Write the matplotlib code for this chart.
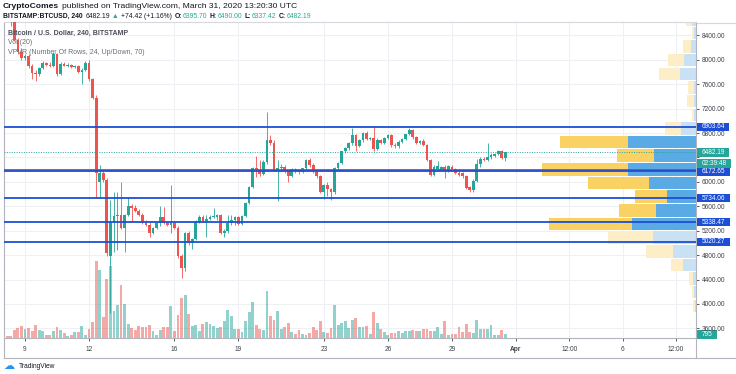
import matplotlib
matplotlib.use('Agg')
import matplotlib.pyplot as plt
import numpy as np
import pandas as pd
from matplotlib.lines import Line2D

plt.rcParams['font.family'] = ['Liberation Sans', 'DejaVu Sans']

# ---------------- data ----------------
start_time = '2020-03-08 00:00'
opens = [8880, 8790, 8700, 8620, 8330, 8130, 8030, 8060, 7890, 7790,
         7760, 7870, 7950, 7920, 7900, 8090, 7770, 7930, 7900, 7920,
         7880, 7900, 7800, 7840, 7950, 7680, 7380, 6000, 6140, 6030,
         4780, 5340, 5440, 5460, 5250, 5460, 5600, 5580, 5520, 5460,
         5330, 5300, 5160, 5250, 5330, 5430, 5320, 5300, 5330, 5250,
         4780, 4590, 5160, 5000, 5060, 5350, 5430, 5360, 5400, 5430,
         5420, 5460, 5170, 5200, 5330, 5370, 5420, 5310, 5440, 5650,
         5920, 6220, 6180, 6130, 6330, 6690, 6640, 6200, 6230, 6250,
         6170, 6100, 6210, 6180, 6160, 6220, 6350, 6280, 6170, 6090,
         5830, 5950, 5880, 5830, 6220, 6310, 6500, 6550, 6640, 6760,
         6590, 6680, 6800, 6710, 6720, 6540, 6680, 6640, 6720, 6760,
         6600, 6580, 6660, 6700, 6780, 6850, 6730, 6640, 6670, 6600,
         6360, 6120, 6210, 6200, 6250, 6180, 6250, 6210, 6150, 6140,
         6090, 5910, 5860, 6020, 6300, 6380, 6360, 6400, 6430, 6450,
         6500, 6395.70]
highs = [8920, 8830, 8740, 8640, 8360, 8200, 8090, 8090, 7930, 7840,
         7880, 7980, 7970, 7960, 8120, 8110, 7960, 7960, 7940, 7930,
         7920, 7910, 7860, 7980, 7990, 7700, 7420, 6280, 6200, 6060,
         5700, 5840, 5840, 5990, 5480, 5760, 5640, 5620, 5550, 5490,
         5370, 5350, 5260, 5340, 5600, 5590, 5360, 5950, 5360, 5280,
         4820, 5180, 5190, 5080, 5370, 5450, 5450, 5460, 5450, 5580,
         5480, 5480, 5230, 5450, 5450, 5440, 5440, 5460, 5670, 5940,
         6250, 6420, 6360, 6360, 7140, 6760, 6680, 6360, 6300, 6270,
         6200, 6230, 6230, 6210, 6230, 6370, 6390, 6310, 6190, 6110,
         5970, 5990, 5900, 6240, 6330, 6510, 6570, 6650, 6890, 6790,
         6700, 6820, 6830, 6740, 6920, 6720, 6700, 6740, 6780, 6790,
         6640, 6680, 6720, 6790, 6880, 6870, 6750, 6690, 6700, 6620,
         6380, 6270, 6340, 6260, 6270, 6280, 6270, 6230, 6180, 6160,
         6110, 5930, 6040, 6370, 6400, 6410, 6640, 6480, 6470, 6530,
         6520, 6490.00]
lows = [8760, 8650, 8560, 8300, 8100, 7990, 7990, 7870, 7680, 7650,
        7740, 7850, 7900, 7880, 7880, 7740, 7750, 7890, 7880, 7860,
        7860, 7780, 7600, 7820, 7660, 7360, 5740, 5740, 6000, 4780,
        3850, 4850, 4890, 5230, 4850, 5440, 5350, 5500, 5440, 5310,
        5270, 5100, 5140, 5230, 5270, 5310, 5280, 5160, 5220, 4750,
        4430, 4540, 4970, 4900, 5040, 5330, 5340, 5100, 5370, 5410,
        5380, 5140, 5090, 5160, 5300, 5290, 5290, 5290, 5420, 5630,
        5900, 6080, 6100, 6110, 6300, 6600, 6170, 5680, 6180, 6150,
        6000, 6080, 6150, 6130, 6140, 6200, 6250, 6150, 6070, 5810,
        5720, 5770, 5710, 5800, 6200, 6290, 6470, 6530, 6610, 6500,
        6570, 6660, 6690, 6680, 6510, 6520, 6620, 6620, 6700, 6570,
        6560, 6560, 6640, 6680, 6760, 6710, 6620, 6620, 6580, 6340,
        6090, 6100, 6190, 6180, 6070, 6160, 6190, 6130, 6100, 6070,
        5880, 5830, 5840, 6000, 6250, 6340, 6340, 6380, 6410, 6440,
        6370, 6337.42]
closes = [8790, 8700, 8620, 8330, 8130, 8030, 8060, 7890, 7790, 7760,
          7870, 7950, 7920, 7900, 8090, 7770, 7930, 7900, 7920, 7880,
          7900, 7800, 7840, 7950, 7680, 7380, 6150, 6140, 6030, 4830,
          5340, 5440, 5460, 5250, 5460, 5600, 5580, 5520, 5460, 5330,
          5300, 5160, 5250, 5330, 5430, 5320, 5300, 5330, 5250, 4780,
          4590, 5160, 5000, 5060, 5350, 5430, 5360, 5400, 5430, 5440,
          5460, 5170, 5200, 5330, 5370, 5420, 5310, 5440, 5650, 5920,
          6220, 6180, 6130, 6330, 6690, 6640, 6200, 6230, 6250, 6170,
          6100, 6210, 6180, 6160, 6220, 6350, 6280, 6170, 6090, 5830,
          5950, 5880, 5830, 6220, 6310, 6500, 6550, 6640, 6760, 6590,
          6680, 6800, 6710, 6720, 6540, 6680, 6640, 6720, 6760, 6600,
          6580, 6660, 6700, 6780, 6850, 6730, 6640, 6670, 6600, 6360,
          6120, 6250, 6260, 6240, 6170, 6260, 6210, 6150, 6120, 6090,
          5900, 5860, 6020, 6300, 6380, 6360, 6400, 6440, 6450, 6500,
          6395.70, 6482.19]
volumes = [1300, 360, 360, 1800, 2160, 2520, 1870, 2230, 1440, 2740,
           1730, 1440, 580, 580, 1440, 2450, 1660, 1150, 430, 580,
           1300, 1300, 2590, 580, 1940, 3380, 16780, 14760, 4540, 12820,
           15550, 5830, 7060, 11590, 7420, 2950, 2160, 1660, 2660, 2450,
           2450, 2740, 1510, 650, 1660, 2450, 2380, 6840, 1440, 5040,
           8780, 9360, 5260, 2660, 2880, 1440, 2950, 3530, 2950, 2520,
           2090, 2300, 3600, 6120, 4680, 2020, 1870, 1220, 3740, 5690,
           7780, 2740, 1870, 1730, 10150, 4680, 3820, 5830, 1870, 2300,
           3240, 1220, 860, 1660, 790, 580, 1010, 2300, 1660, 3670,
           1300, 1010, 2160, 7200, 2810, 3310, 3600, 2160, 3820, 4250,
           2300, 2380, 2590, 940, 5540, 3170, 1940, 1300, 650, 1150,
           1010, 1440, 1080, 1510, 1580, 1660, 1440, 1580, 2020, 1940,
           1580, 1440, 2300, 860, 3670, 720, 860, 860, 2380, 1370,
           3100, 1220, 1080, 3960, 1940, 1870, 1870, 2880, 650, 580,
           1660, 795]

tick_dates = ['2020-03-09 00:00', '2020-03-12 00:00', '2020-03-16 00:00', '2020-03-19 00:00',
              '2020-03-23 00:00', '2020-03-26 00:00', '2020-03-29 00:00', '2020-04-01 00:00',
              '2020-04-03 12:00', '2020-04-06 00:00', '2020-04-08 12:00']
tick_labels = ['9', '12', '16', '19', '23', '26', '29', 'Apr', '12:00', '6', '12:00']
price_ticks = [3600, 4000, 4400, 4800, 5200, 5600, 6000, 6400, 6800, 7200, 7600, 8000, 8400]
hidden_price_labels = [6400]   # covered by the last-price boxes in the reference

levels = [6903.64, 6172.65, 5734.06, 5338.47, 5020.27]
red_level = 6190
last_price = 6482.19
countdown = '02:39:48'
last_volume = 795

# Volume profile (24 rows)
vp_low = 3858
vp_step = 223.5
vp_up = [600, 800, 1400, 5200, 9100, 17100, 25600, 16000, 11800, 18700, 27100, 16700,
         27400, 6000, 800, 1000, 1000, 6400, 4800, 1900, 800, 1600, 2400, 1200]
vp_down = [800, 800, 1600, 4800, 10900, 18300, 33100, 14700, 12500, 24700, 34500, 15100,
           26900, 6300, 800, 2800, 2400, 8400, 6400, 3200, 800, 2400, 4800, 2400]
vp_value_area = [False] * 6 + [True] * 7 + [False] * 11

header1 = [('CryptoComes', 'bold', 'dark', 0),
           ('published on TradingView.com, March 31, 2020 13:20:30 UTC', 'normal', 'dark', 2.0)]
header2 = [('BITSTAMP:BTCUSD, 240', 'bold', 'dark', 0), ('6482.19', 'normal', 'dark', 2.0),
           ('▲', 'normal', 'teal', 1.5), ('+74.42 (+1.16%)', 'normal', 'dark', 1.5),
           ('O:', 'bold', 'dark', 2.0), ('6395.70', 'normal', 'teal', 0.3),
           ('H:', 'bold', 'dark', 2.0), ('6490.00', 'normal', 'teal', 0.3),
           ('L:', 'bold', 'dark', 2.0), ('6337.42', 'normal', 'teal', 0.3),
           ('C:', 'bold', 'dark', 2.0), ('6482.19', 'normal', 'teal', 0.3)]
legend_title = 'Bitcoin / U.S. Dollar, 240, BITSTAMP'
legend_vol = 'Vol (20)'
legend_vpvr = 'VPVR (Number Of Rows, 24, Up/Down, 70)'

# ---------------- styling ----------------
UP = '#26a69a'
DOWN = '#ef5350'
UP_VOL = (38/255, 166/255, 154/255, 0.5)
DOWN_VOL = (239/255, 83/255, 80/255, 0.5)
LEVEL_BLUE = '#1c4fd6'
RED_LINE = '#e3262b'
GRID = '#eef0f4'
SPINE = '#b2b5be'
DARK = '#131722'
TEXT_GRAY = '#4a4d57'
COLS = {'dark': DARK, 'teal': UP}

FW, FH = 736, 374
fig = plt.figure(figsize=(FW / 100, FH / 100), dpi=100)
L, R, T, B = 4, 696, 22.5, 338
ax = fig.add_axes([L / FW, 1 - B / FH, (R - L) / FW, (B - T) / FH])
ax_vol = ax.twinx()
ax_vp = ax.twiny()
ax_vol.set_zorder(1)
ax_vp.set_zorder(2)
ax.set_zorder(3)
ax.patch.set_visible(False)
ax_vp.patch.set_visible(False)

times = pd.date_range(start_time, periods=len(closes), freq='4h')
tick_times = pd.to_datetime(tick_dates, format='%Y-%m-%d %H:%M')
o = np.array(opens, float)
h = np.array(highs, float)
lo = np.array(lows, float)
c = np.array(closes, float)
up = c >= o
cand = pd.Timedelta(hours=4)

# x range
x_left = times[0] + 0.1 * cand
x_right = times[0] + 194.6 * cand
ax.set_xlim(x_left, x_right)
ax.set_ylim(3443, 8610)

# grid (drawn on lowest layer)
for td in tick_times:
    ax_vol.axvline(td, color=GRID, lw=0.8, zorder=0)
for p in price_ticks:
    ax_vol.plot([0, 1], [p, p], transform=ax.get_yaxis_transform(), color=GRID, lw=0.8, zorder=0)

# volume
vcols = [UP_VOL if u else DOWN_VOL for u in up]
ax_vol.bar(times, volumes, width=0.8 * 4 / 24, color=vcols, zorder=2, linewidth=0)
ax_vol.set_ylim(0, 68400)
ax_vol.set_yticks([])
for s in ax_vol.spines.values():
    s.set_visible(False)

# volume profile
centers = [vp_low + vp_step * (k + 0.5) for k in range(len(vp_up))]
up_cols = ['#5aaae6' if va else '#c8e1f5' for va in vp_value_area]
dn_cols = ['#fad264' if va else '#fdeec8' for va in vp_value_area]
ax_vp.barh(centers, vp_up, height=vp_step * 0.92, left=0, color=up_cols, linewidth=0)
ax_vp.barh(centers, vp_down, height=vp_step * 0.92, left=vp_up, color=dn_cols, linewidth=0)
ax_vp.set_xlim((R - L) * 400, 0)
ax_vp.set_xticks([])
for s in ax_vp.spines.values():
    s.set_visible(False)

# candles
ccols = [UP if u else DOWN for u in up]
ax.vlines(times, lo, h, colors=ccols, lw=0.6, zorder=3)
body_bottom = np.minimum(o, c)
body_h = np.maximum(np.abs(c - o), 12)
ax.bar(times, body_h, bottom=body_bottom, width=0.76 * 4 / 24, color=ccols, linewidth=0, zorder=4)

# level lines
ax.axhline(red_level, color=RED_LINE, lw=1.2, zorder=5)
for lv in levels:
    ax.axhline(lv, color=LEVEL_BLUE, lw=1.3, zorder=5)
ax.axhline(last_price, color=UP, lw=0.7, ls=(0, (1, 1.5)), zorder=5)

# axes / ticks
ax.yaxis.tick_right()
ax.set_yticks(price_ticks)
ax.set_yticklabels(['' if p in hidden_price_labels else f'{p:.2f}' for p in price_ticks])
ax.tick_params(axis='y', labelsize=4.7, colors='#3f4147', length=2.5, width=0.6, pad=1.5)
ax.set_xticks(tick_times)
ax.set_xticklabels(tick_labels)
for lab in ax.get_xticklabels():
    if lab.get_text() == 'Apr':
        lab.set_fontweight('bold')
ax.tick_params(axis='x', labelsize=4.7, colors='#3f4147', length=2.5, width=0.6, pad=3)
for side in ['left', 'right', 'top', 'bottom']:
    ax.spines[side].set_color(SPINE)
    ax.spines[side].set_linewidth(0.8)
ax.spines['top'].set_color('#d6d8de')

# right-axis labels
bx = 1 + 5.5 / (R - L)
box_kw = dict(boxstyle='square,pad=0.7', ec='none')


def price_box(axis, y, s, fc, dy=0):
    axis.annotate(s, xy=(bx, y), xycoords=axis.get_yaxis_transform(), xytext=(0, dy),
                  textcoords='offset points', ha='left', va='center', fontsize=4.7,
                  color='white', annotation_clip=False, zorder=10,
                  bbox=dict(fc=fc, mutation_aspect=0.15, **box_kw))


for lv in levels:
    price_box(ax, lv, f'{lv:.2f}', LEVEL_BLUE)
price_box(ax, last_price, f'{last_price:.2f}', UP)
price_box(ax, last_price, countdown, UP, dy=-8)
price_box(ax_vol, last_volume, f'{last_volume}', UP)

# outer frame lines (time axis box)
fig.add_artist(Line2D([L / FW, L / FW], [1 - B / FH, 1 - 358 / FH], color=SPINE, lw=0.8))
fig.add_artist(Line2D([L / FW, 1], [1 - 358 / FH, 1 - 358 / FH], color=SPINE, lw=0.8))
fig.add_artist(Line2D([R / FW, R / FW], [1 - B / FH, 1 - 358 / FH], color=SPINE, lw=0.8))
fig.add_artist(Line2D([R / FW, 1], [1 - T / FH, 1 - T / FH], color='#d6d8de', lw=0.8))


# header text with segments
def seg_line(x_px, y_px, parts, size):
    prev = None
    for s, wt, col, gap in parts:
        if prev is None:
            prev = fig.text(x_px / FW, 1 - y_px / FH, s, fontsize=size, fontweight=wt,
                            color=COLS[col], ha='left', va='center')
        else:
            prev = ax.annotate(s, xy=(1, 0.5), xycoords=prev, xytext=(gap, 0),
                               textcoords='offset points', ha='left', va='center',
                               fontsize=size, fontweight=wt, color=COLS[col],
                               annotation_clip=False)


seg_line(3, 6.5, header1, 6.1)
seg_line(3, 16, header2, 4.9)

fig.text(8 / FW, 1 - 33 / FH, legend_title, fontsize=5.0, fontweight='bold', color=TEXT_GRAY,
         ha='left', va='center')
fig.text(8 / FW, 1 - 43 / FH, legend_vol, fontsize=5.0, color='#6a6d78', ha='left', va='center')
fig.text(8 / FW, 1 - 52.5 / FH, legend_vpvr, fontsize=5.0, color='#6a6d78', ha='left', va='center')

# TradingView logo
fig.text(3 / FW, 1 - 366 / FH, '☁', fontsize=8, color='#2196f3', ha='left', va='center',
         family='DejaVu Sans')
fig.text(19 / FW, 1 - 366 / FH, 'TradingView', fontsize=4.8, color=DARK, ha='left', va='center')

fig.savefig('out.png', dpi=100)
